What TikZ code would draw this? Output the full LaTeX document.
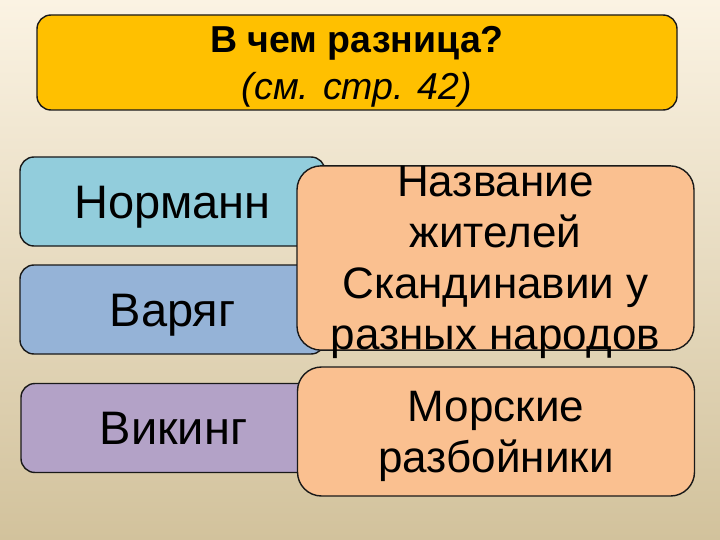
\documentclass[tikz,border=0pt]{standalone}
\usepackage{fontspec}
\setmainfont{Liberation Sans}
\begin{document}
\begin{tikzpicture}[x=1pt,y=-1pt,
  boxbase/.style={draw=black!90, line width=1.4pt, inner sep=0pt, align=center},
  titlebox/.style={boxbase, fill=titlefill, rounded corners=14pt, minimum width=640, minimum height=95,
     font=\fontsize{37.5}{47}\selectfont, text depth=0pt},
  termbox/.style={boxbase, rounded corners=14pt, minimum width=305, minimum height=89,
     font=\fontsize{47}{51}\selectfont, text height=33.5pt, text depth=0pt},
  defbox/.style={boxbase, fill=deffill, rounded corners=24pt, minimum width=397,
     font=\fontsize{44}{51}\selectfont, text depth=1pt}
]
\definecolor{titlefill}{HTML}{FFC000}
\definecolor{normfill}{HTML}{92CDDC}
\definecolor{varfill}{HTML}{95B3D7}
\definecolor{vikfill}{HTML}{B3A2C7}
\definecolor{deffill}{HTML}{FAC090}
\definecolor{bgtop}{HTML}{FBF3E3}
\definecolor{bgmid}{HTML}{F3E9D1}
\definecolor{bgbot}{HTML}{D2C29C}
\useasboundingbox (0,0) rectangle (720,540);
\shade[top color=bgtop, middle color=bgmid, bottom color=bgbot] (0,0) rectangle (720,540);

\node[titlebox] (title) at (357,62.5) {%
  \textbf{В чем разница?}\\
  \textit{(см. стр. 42)}};

\node[termbox, fill=normfill] (norm) at (172.5,201.5) {Норманн};
\node[termbox, fill=varfill] (var) at (172.5,309.5) {Варяг};
\node[termbox, fill=vikfill] (vik) at (173.5,428) {Викинг};

\node[defbox, minimum height=180] (def1) at (495.5,258) {Название\\жителей\\Скандинавии у\\разных народов};
\node[defbox, minimum height=129, text depth=-5pt] (def2) at (496,431.5) {Морские\\разбойники};
\end{tikzpicture}
\end{document}
